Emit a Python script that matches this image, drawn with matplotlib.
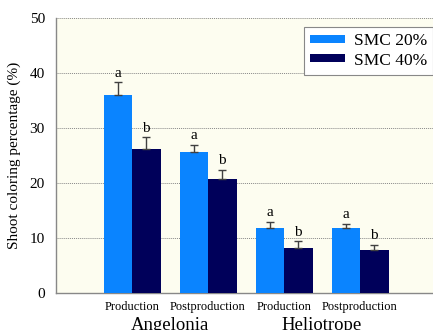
import matplotlib.pyplot as plt
import numpy as np

plt.rcParams['font.family'] = ['Liberation Serif', 'DejaVu Serif']

stages = ['Production', 'Postproduction', 'Production', 'Postproduction']
species = ['Angelonia', 'Heliotrope']
smc20 = [36.0, 25.7, 11.8, 11.9]
smc20_err = [2.3, 1.3, 1.1, 0.7]
smc40 = [26.2, 20.7, 8.1, 7.9]
smc40_err = [2.1, 1.7, 1.3, 0.8]
letters20 = ['a', 'a', 'a', 'a']
letters40 = ['b', 'b', 'b', 'b']

fig = plt.figure(figsize=(4.33, 3.30), dpi=100)
ax = fig.add_axes([56 / 433, 1 - 293 / 330, 377 / 433, 275 / 330])
ax.set_facecolor('#fdfdf0')

x = np.arange(len(stages))
w = 0.375
blue = '#0a84ff'
navy = '#00005a'
ax.bar(x - w / 2, smc20, w, color=blue, label='SMC 20%', zorder=3)
ax.bar(x + w / 2, smc40, w, color=navy, label='SMC 40%', zorder=3)
ax.errorbar(x - w / 2, smc20, yerr=[np.zeros(4), smc20_err], fmt='none',
            ecolor='#404040', elinewidth=1, capsize=3, capthick=1, zorder=4)
ax.errorbar(x + w / 2, smc40, yerr=[np.zeros(4), smc40_err], fmt='none',
            ecolor='#404040', elinewidth=1, capsize=3, capthick=1, zorder=4)

for xi, v, e, t in zip(x - w / 2, smc20, smc20_err, letters20):
    ax.text(xi, v + e + 0.5, t, ha='center', va='bottom', fontsize=11)
for xi, v, e, t in zip(x + w / 2, smc40, smc40_err, letters40):
    ax.text(xi, v + e + 0.5, t, ha='center', va='bottom', fontsize=11)

ax.set_xlim(-1.0, 3.96)
ax.set_ylim(0, 50)
ax.set_yticks(range(0, 51, 10))
ax.tick_params(axis='y', length=0, labelsize=11, pad=8)
ax.set_xticks(x)
ax.set_xticklabels(stages, fontsize=9)
ax.tick_params(axis='x', length=0, pad=6)
ax.yaxis.grid(True, linestyle=(0, (1, 1)), color='#888888', linewidth=0.7, zorder=0)

for s in ['top', 'right']:
    ax.spines[s].set_visible(False)
for s in ['left', 'bottom']:
    ax.spines[s].set_color('#888888')
    ax.spines[s].set_linewidth(1)

ax.set_ylabel('Shoot coloring percentage (%)', fontsize=11, labelpad=6)

for i, name in enumerate(species):
    ax.text(2 * i + 0.5, -0.088, name, transform=ax.get_xaxis_transform(),
            ha='center', va='top', fontsize=13.5)

leg = ax.legend(loc='upper right', bbox_to_anchor=(1.0, 0.967), fontsize=12.5,
                fancybox=False, framealpha=1, edgecolor='#888888',
                handlelength=2.0, handleheight=0.35, borderpad=0.35,
                labelspacing=0.2, handletextpad=0.5, borderaxespad=0)
leg.get_frame().set_linewidth(0.8)

fig.savefig('out.png', dpi=100)
